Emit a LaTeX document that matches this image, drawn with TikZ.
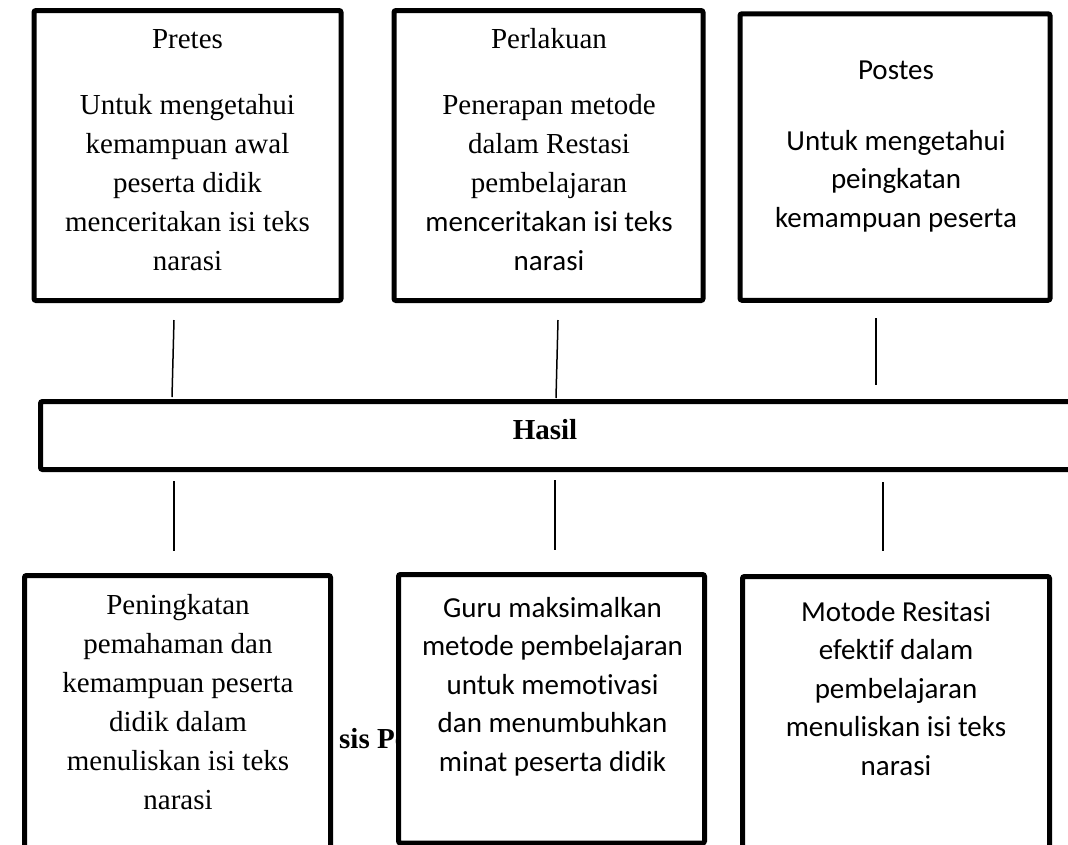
\documentclass[tikz,border=0pt]{standalone}
\usepackage{fontspec}
\setmainfont{Liberation Serif}
\newfontfamily\calibri[Ligatures=NoCommon]{Carlito}
\usetikzlibrary{positioning}

\begin{document}
\begin{tikzpicture}[
        x=1pt, y=-1pt,
        box/.style={
            rectangle,
            draw=black,
            fill=white,
            line width=5pt,
            rounded corners=2pt,
            inner sep=0pt
        },
        txt/.style={
            align=center,
            inner sep=0pt,
            font=\fontsize{29}{39}\selectfont
        },
        sans/.style={
            align=center,
            inner sep=0pt,
            font=\calibri\fontsize{29}{38.5}\selectfont
        },
        connect/.style={line width=1.5pt, draw=black}
    ]
    \useasboundingbox (0,0) rectangle (1068,844);

    % kotak atas
    \node (pretes)    [box, minimum width=307pt, minimum height=290pt] at (187.5,155.5) {};
    \node (perlakuan) [box, minimum width=309pt, minimum height=290pt] at (548.5,155.5) {};
    \node (postes)    [box, minimum width=310pt, minimum height=286.5pt] at (895,157) {};

    \node (pretesJudul) [txt] at (187.5,39) {Pretes};
    \node (pretesIsi)   [txt] at (187.5,183) {Untuk mengetahui\\kemampuan awal\\peserta didik\\menceritakan isi teks\\narasi};

    \node (perlakuanJudul) [txt] at (549,39) {Perlakuan};
    \node (perlakuanIsi)   [txt] at (549,183) {Penerapan metode\\dalam Restasi\\pembelajaran\\{\calibri menceritakan isi teks}\\{\calibri narasi}};

    \node (postesJudul) [sans] at (896,70) {Postes};
    \node (postesIsi)   [sans] at (896,181) {Untuk mengetahui\\peingkatan\\kemampuan peserta};

    % hasil
    \node (hasil) [box, minimum width=1044.5pt, minimum height=68pt] at (562.75,435.5) {};
    \node (hasilTeks) [txt, font=\bfseries\fontsize{29}{39}\selectfont] at (545,429.5) {Hasil};

    % teks yang tertutup kotak
    \node (judul) [txt, font=\bfseries\fontsize{29}{39}\selectfont, anchor=base west] at (339,748) {sis Pe};

    % kotak bawah
    \node (pemahaman) [box, minimum width=306pt, minimum height=275pt] at (177.5,713) {};
    \node (guru)      [box, minimum width=306pt, minimum height=268.5pt] at (551.5,708.75) {};
    \node (resitasi)  [box, minimum width=307pt, minimum height=274pt] at (896,713.5) {};

    \node (pemahamanIsi) [txt] at (178,702.5) {Peningkatan\\pemahaman dan\\kemampuan peserta\\didik dalam\\menuliskan isi teks\\narasi};
    \node (guruIsi)      [sans] at (552.5,686.5) {Guru maksimalkan\\metode pembelajaran\\untuk memotivasi\\dan menumbuhkan\\minat peserta didik};
    \node (resitasiIsi)  [sans] at (896,688.5) {Motode Resitasi\\efektif dalam\\pembelajaran\\menuliskan isi teks\\narasi};

    % garis penghubung
    \coordinate (a1) at (174,320);
    \coordinate (a2) at (172,397);
    \coordinate (b1) at (558,320);
    \coordinate (b2) at (556,398);
    \coordinate (c1) at (876,318);
    \coordinate (c2) at (876,385);
    \coordinate (d1) at (174,481);
    \coordinate (d2) at (174,551);
    \coordinate (e1) at (555,480);
    \coordinate (e2) at (555,550);
    \coordinate (f1) at (883,482);
    \coordinate (f2) at (883,551);

    \draw [connect] (a1) -- (a2);
    \draw [connect] (b1) -- (b2);
    \draw [connect] (c1) -- (c2);
    \draw [connect] (d1) -- (d2);
    \draw [connect] (e1) -- (e2);
    \draw [connect] (f1) -- (f2);

\end{tikzpicture}
\end{document}
